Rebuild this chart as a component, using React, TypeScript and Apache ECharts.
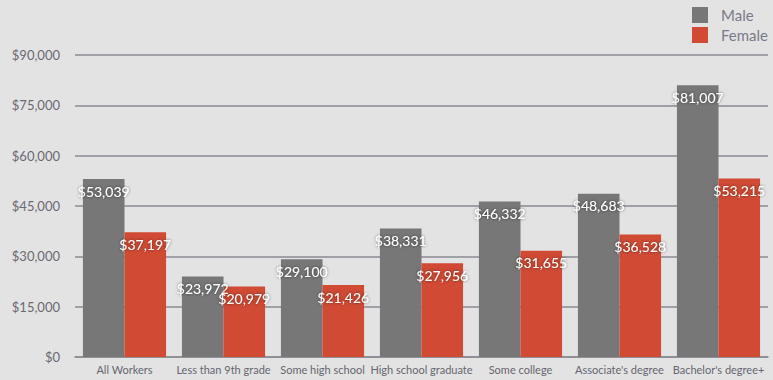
import React, { useEffect, useRef } from "react";
import * as echarts from "echarts";

const categories = [
  "All Workers",
  "Less than 9th grade",
  "Some high school",
  "High school graduate",
  "Some college",
  "Associate's degree",
  "Bachelor's degree+",
];
const maleValues = [53039, 23972, 29100, 38331, 46332, 48683, 81007];
const femaleValues = [37197, 20979, 21426, 27956, 31655, 36528, 53215];
const seriesNames = ["Male", "Female"];

const fmt = (v: number) => "$" + v.toLocaleString("en-US");

export default function App() {
  const ref = useRef<HTMLDivElement>(null);
  useEffect(() => {
    document.body.style.margin = "0";
    const chart = echarts.init(ref.current!, null, { renderer: "svg" });
    const font = "Lato, 'Open Sans', sans-serif";
    const label = {
      show: true,
      position: "insideTop" as const,
      distance: 5,
      color: "#ffffff",
      fontSize: 14,
      fontFamily: font,
      textShadowColor: "rgba(0,0,0,0.55)",
      textShadowBlur: 3,
      formatter: (p: any) => fmt(p.value),
    };
    chart.setOption({
      animation: false,
      backgroundColor: "#e3e3e3",
      textStyle: { fontFamily: font },
      legend: {
        data: seriesNames,
        orient: "vertical",
        left: 692,
        top: 7,
        padding: 0,
        itemWidth: 16,
        itemHeight: 16,
        itemGap: 4,
        icon: "rect",
        textStyle: { color: "#7a7a88", fontSize: 15, fontFamily: font, padding: [0, 0, 0, 8] },
      },
      grid: { left: 75, right: 5, top: 55, bottom: 23, containLabel: false },
      xAxis: {
        type: "category",
        data: categories,
        axisTick: { show: false },
        axisLine: { lineStyle: { color: "#8a8a92", width: 1.5 } },
        axisLabel: { color: "#666670", fontSize: 11, margin: 7, interval: 0, fontFamily: font },
      },
      yAxis: {
        type: "value",
        min: 0,
        max: 90000,
        interval: 15000,
        axisLine: { show: false },
        axisTick: { show: false },
        splitLine: { lineStyle: { color: "#8a8a92", width: 1.5 } },
        axisLabel: {
          color: "#6a6a72",
          fontSize: 13,
          margin: 15,
          fontFamily: font,
          formatter: (v: number) => fmt(v),
        },
      },
      series: [
        {
          name: seriesNames[0],
          type: "bar",
          data: maleValues,
          barWidth: "42%",
          barGap: "0%",
          itemStyle: { color: "#777777" },
          label,
        },
        {
          name: seriesNames[1],
          type: "bar",
          data: femaleValues,
          barWidth: "42%",
          barGap: "0%",
          itemStyle: { color: "#d04a34" },
          label,
        },
      ],
    });
    return () => chart.dispose();
  }, []);
  return <div ref={ref} style={{ width: 773, height: 380 }} />;
}
